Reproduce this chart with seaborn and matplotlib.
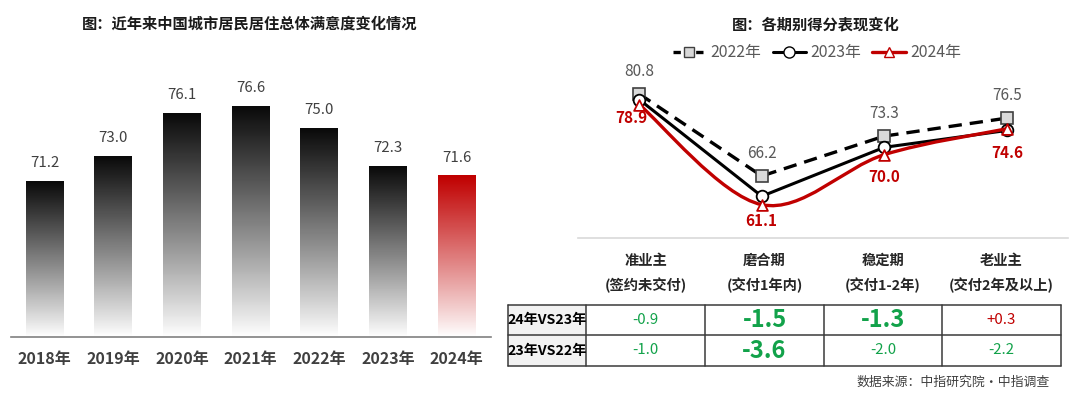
import numpy as np
import pandas as pd
import matplotlib
matplotlib.use("Agg")
import matplotlib.pyplot as plt
import seaborn as sns
from matplotlib.path import Path
from matplotlib.patches import PathPatch, Rectangle
from matplotlib.lines import Line2D
from matplotlib.colors import LinearSegmentedColormap

# ---------------- data ----------------
years = ["2018年", "2019年", "2020年", "2021年", "2022年", "2023年", "2024年"]
satisfaction = [71.2, 73.0, 76.1, 76.6, 75.0, 72.3, 71.6]

stage_names = ["准业主", "磨合期", "稳定期", "老业主"]
stage_notes = ["(签约未交付)", "(交付1年内)", "(交付1-2年)", "(交付2年及以上)"]
scores_2022 = [80.8, 66.2, 73.3, 76.5]
scores_2023 = [79.8, 62.6, 71.3, 74.3]
scores_2024 = [78.9, 61.1, 70.0, 74.6]
series_names = ["2022年", "2023年", "2024年"]
row_labels = ["24年VS23年", "23年VS22年"]

title_left = "图：近年来中国城市居民居住总体满意度变化情况"
title_right = "图：各期别得分表现变化"
source_note = "数据来源：中指研究院·中指调查"

# ---------------- style ----------------
sns.set_theme(style="white")
plt.rcParams['font.family'] = ['Noto Sans CJK SC', 'DejaVu Sans']
plt.rcParams['axes.unicode_minus'] = False

W, H = 1080, 398
fig = plt.figure(figsize=(W / 100, H / 100), dpi=100)


def fx(px):
    return px / W


def fy(py):
    return 1 - py / H


TXT = "#404040"
RED = "#c00000"
GREEN = "#12a24a"

# ---------------- left: bar chart ----------------
axL = fig.add_axes([fx(11), fy(337), fx(491) - fx(11), fy(60) - fy(337)])
df = pd.DataFrame({"year": years, "value": satisfaction})
sns.barplot(data=df, x="year", y="value", ax=axL, width=0.55,
            color="black", saturation=1)
YLIM_L = (60, 79.93)
XLIM_L = (-0.49, 6.5)
axL.set_ylim(*YLIM_L)
axL.set_xlim(*XLIM_L)

ymin = YLIM_L[0]
s = np.linspace(0, 1, 256)           # 0 = bottom, 1 = top
grad = (s ** 0.95).reshape(-1, 1)
cm_dark = LinearSegmentedColormap.from_list("dk", ["#ffffff", "#0a0a0a"])
cm_red = LinearSegmentedColormap.from_list("rd", ["#ffffff", "#c00000"])
for i, p in enumerate(axL.patches):
    x0, w, top = p.get_x(), p.get_width(), p.get_height()
    p.set_facecolor("none")
    p.set_edgecolor("none")
    cmap = cm_red if i == len(axL.patches) - 1 else cm_dark
    axL.imshow(grad, extent=[x0, x0 + w, ymin, top], origin="lower",
               aspect="auto", cmap=cmap, vmin=0, vmax=1, zorder=2)
    axL.annotate(f"{satisfaction[i]:.1f}", (i, satisfaction[i]),
                 xytext=(0, 13), textcoords="offset points",
                 ha="center", va="center", fontsize=10.8, color=TXT)
axL.set_ylim(*YLIM_L)
axL.set_xlim(*XLIM_L)
axL.set_xlabel("")
axL.set_ylabel("")
axL.set_yticks([])
for sp in ["left", "right", "top"]:
    axL.spines[sp].set_visible(False)
axL.spines["bottom"].set_color("#808080")
axL.spines["bottom"].set_linewidth(1.2)
axL.tick_params(axis="x", length=0, pad=10, labelsize=11.5, labelcolor=TXT)
for lab in axL.get_xticklabels():
    lab.set_fontweight("bold")
axL.set_facecolor("none")

fig.text(fx(250), fy(24), title_left, ha="center", va="center",
         fontsize=11, fontweight="bold", color="#1a1a1a")

# ---------------- right: line chart ----------------
axR = fig.add_axes([fx(578), fy(238), fx(1068) - fx(578), fy(60) - fy(238)])
xs = np.arange(len(stage_names))


def smooth_path(x, y):
    pts = np.column_stack([x, y]).astype(float)
    n = len(pts)
    verts = [pts[0]]
    codes = [Path.MOVETO]
    for i in range(n - 1):
        p0 = pts[i - 1] if i > 0 else pts[i]
        p1, p2 = pts[i], pts[i + 1]
        p3 = pts[i + 2] if i + 2 < n else pts[i + 1]
        c1 = p1 + (p2 - p0) / 6
        c2 = p2 - (p3 - p1) / 6
        verts += [c1, c2, p2]
        codes += [Path.CURVE4] * 3
    return Path(verts, codes)


sns.lineplot(x=xs, y=scores_2022, ax=axR, color="black", lw=2.4,
             linestyle=(0, (4, 2.4)), marker="s", markersize=8.2,
             markerfacecolor="#d9d9d9", markeredgecolor="#404040",
             markeredgewidth=1.2, zorder=3)
sns.lineplot(x=xs, y=scores_2023, ax=axR, color="black", lw=2.2,
             marker="o", markersize=8.4, markerfacecolor="white",
             markeredgecolor="black", markeredgewidth=1.3, zorder=4)
axR.add_patch(PathPatch(smooth_path(xs, scores_2024), fill=False,
                        edgecolor=RED, lw=2.4, zorder=6))
sns.scatterplot(x=xs, y=scores_2024, ax=axR, marker="^", s=60,
                color="white", edgecolor=RED, linewidth=1.3, zorder=7)

for i, v in enumerate(scores_2022):
    axR.annotate(f"{v:.1f}", (i, v), xytext=(0, 16), textcoords="offset points",
                 ha="center", va="center", fontsize=11, color="#595959")
red_offsets = [(-5.8, -9.7), (0, -11.5), (0, -16), (0, -17.5)]
for i, v in enumerate(scores_2024):
    dx, dy = red_offsets[i]
    axR.annotate(f"{v:.1f}", (i, v), xytext=(dx, dy), textcoords="offset points",
                 ha="center", va="center", fontsize=11, fontweight="bold",
                 color=RED, zorder=8)

axR.set_xlim(-0.5, 3.5)
axR.set_ylim(55.17, 86.84)
axR.set_xticks([])
axR.set_yticks([])
for sp in ["left", "right", "top"]:
    axR.spines[sp].set_visible(False)
axR.spines["bottom"].set_color("#d9d9d9")
axR.spines["bottom"].set_linewidth(1.2)
axR.set_facecolor("none")
if axR.get_legend():
    axR.get_legend().remove()

handles = [
    Line2D([0], [0], color="black", lw=2.4, linestyle=(0, (2.2, 1.2)), marker="s",
           markersize=7.5, markerfacecolor="#d9d9d9", markeredgecolor="#404040"),
    Line2D([0], [0], color="black", lw=2.2, marker="o", markersize=8,
           markerfacecolor="white", markeredgecolor="black"),
    Line2D([0], [0], color=RED, lw=2.4, marker="^", markersize=7,
           markerfacecolor="white", markeredgecolor=RED),
]
leg = fig.legend(handles, series_names, loc="center", ncol=3,
                 bbox_to_anchor=(fx(817), fy(53)), frameon=False,
                 fontsize=11.4, handlelength=2.1, handletextpad=0.3,
                 columnspacing=0.7, labelcolor="#595959")

fig.text(fx(816), fy(24), title_right, ha="center", va="center",
         fontsize=11, fontweight="bold", color="#1a1a1a")

# ---------------- table ----------------
axT = fig.add_axes([0, 0, 1, 1])
axT.set_xlim(0, W)
axT.set_ylim(H, 0)
axT.axis("off")
axT.set_facecolor("none")

col_edges = [508, 586, 705, 824, 942, 1061]
row_edges = [305, 335, 366]
diffs = [
    [round(b - a, 1) for a, b in zip(scores_2023, scores_2024)],
    [round(b - a, 1) for a, b in zip(scores_2022, scores_2023)],
]
big_cells = {(0, 1), (0, 2), (1, 1)}

for j in range(len(stage_names)):
    cx = (col_edges[j + 1] + col_edges[j + 2]) / 2
    axT.text(cx, 261, stage_names[j], ha="center", va="center",
             fontsize=10.3, fontweight="bold", color="#262626")
    axT.text(cx, 285, stage_notes[j], ha="center", va="center",
             fontsize=10.3, fontweight="bold", color="#262626")

for r in range(len(row_labels)):
    y0, y1 = row_edges[r], row_edges[r + 1]
    axT.add_patch(Rectangle((col_edges[0], y0), col_edges[1] - col_edges[0],
                            y1 - y0, facecolor="#f2f2f2", edgecolor="none"))
    axT.text((col_edges[0] + col_edges[1]) / 2, (y0 + y1) / 2, row_labels[r],
             ha="center", va="center", fontsize=10.2, fontweight="bold",
             color="black")
    for j, d in enumerate(diffs[r]):
        cx = (col_edges[j + 1] + col_edges[j + 2]) / 2
        big = (r, j) in big_cells
        axT.text(cx, (y0 + y1) / 2, f"{d:+.1f}", ha="center", va="center",
                 fontsize=17 if big else 10.8,
                 fontweight="bold" if big else "normal",
                 color=RED if d > 0 else GREEN)

lc = "#3a3a3a"
for yy in row_edges:
    axT.plot([col_edges[0], col_edges[-1]], [yy, yy], color=lc, lw=1.1)
for xx in col_edges:
    axT.plot([xx, xx], [row_edges[0], row_edges[-1]], color=lc, lw=1.1)

fig.text(fx(1050), fy(382), source_note, ha="right", va="center",
         fontsize=9.3, color=TXT)

fig.savefig("out.png", dpi=100)
